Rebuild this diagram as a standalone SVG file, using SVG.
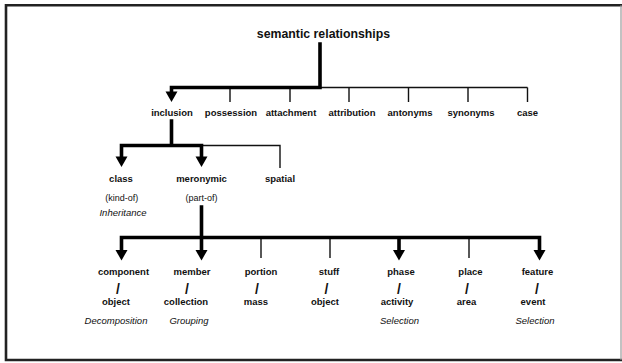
<svg xmlns="http://www.w3.org/2000/svg" xmlns:xlink="http://www.w3.org/1999/xlink" width="622" height="363" viewBox="0 0 622 363">
<defs>
<style>
.frame{fill:none;stroke:#222;stroke-width:2.6}
.frame-r{fill:none;stroke:#999;stroke-width:1.2}
.thick{fill:none;stroke:#000;stroke-width:3.6;stroke-linecap:square;stroke-linejoin:miter}
.thin{fill:none;stroke:#111;stroke-width:1.4}
.ah{fill:#000}
text{font-family:"Liberation Sans",Arial,sans-serif;fill:#111;text-anchor:middle}
.title{font-size:12.3px;font-weight:bold}
.lbl{font-size:9.5px;font-weight:bold}
.par{font-size:9px}
.it{font-size:9.5px;font-style:italic}
.sl{font-size:14px;font-weight:bold}
</style>
<path id="ah" d="M-6,-10.5 L6,-10.5 L0,0 Z"/>
</defs>
<rect x="0" y="0" width="622" height="363" fill="#fff"/>
<path class="frame" d="M622,5.2 H6 V360 H622"/>
<path class="frame-r" d="M621,5.2 V360"/>

<g id="connectors">
  <!-- level 1 -->
  <path class="thin" d="M171.5,87.5 H527.5"/>
  <path class="thin" d="M230,87.5 V102 M290,87.5 V102 M349,87.5 V102 M408.5,87.5 V102 M468,87.5 V102 M527.5,87.5 V102"/>
  <path class="thick" d="M320,44 V87.5 H171.5 V93"/>
  <use href="#ah" class="ah" x="171.5" y="102"/>
  <!-- level 2 -->
  <path class="thin" d="M201.5,145.5 H280 V168"/>
  <path class="thick" d="M171.5,121 V145.5 M121.5,157 V145.5 H201.5 V157"/>
  <use href="#ah" class="ah" x="121.5" y="167"/>
  <use href="#ah" class="ah" x="201.5" y="167"/>
  <!-- level 3 -->
  <path class="thin" d="M261,237.5 V258 M330,237.5 V258 M469,237.5 V258"/>
  <path class="thick" d="M201.5,207 V237.5 M121.5,250 V237.5 H539.5 V250 M201.5,237.5 V250 M399,237.5 V250"/>
  <use href="#ah" class="ah" x="121.5" y="260.5"/>
  <use href="#ah" class="ah" x="201.5" y="260.5"/>
  <use href="#ah" class="ah" x="399" y="260.5"/>
  <use href="#ah" class="ah" x="539.5" y="260.5"/>
</g>

<g id="semantic-relationships"><text class="title" x="323.5" y="38.3">semantic relationships</text></g>

<g id="inclusion"><text class="lbl" x="172" y="115.5">inclusion</text></g>
<g id="possession"><text class="lbl" x="231" y="115.5">possession</text></g>
<g id="attachment"><text class="lbl" x="291" y="115.5">attachment</text></g>
<g id="attribution"><text class="lbl" x="352" y="115.5">attribution</text></g>
<g id="antonyms"><text class="lbl" x="410" y="115.5">antonyms</text></g>
<g id="synonyms"><text class="lbl" x="471" y="115.5">synonyms</text></g>
<g id="case"><text class="lbl" x="527.5" y="115.5">case</text></g>

<g id="class">
  <text class="lbl" x="121" y="181.5">class</text>
  <text class="par" x="121.7" y="201">(kind-of)</text>
  <text class="it" x="123" y="216">Inheritance</text>
</g>
<g id="meronymic">
  <text class="lbl" x="201.5" y="181.5">meronymic</text>
  <text class="par" x="201.5" y="201">(part-of)</text>
</g>
<g id="spatial"><text class="lbl" x="280" y="181.5">spatial</text></g>

<g id="component-object">
  <text class="lbl" x="123.5" y="275">component</text>
  <text class="sl" x="118" y="293.5">/</text>
  <text class="lbl" x="116" y="305">object</text>
  <text class="it" x="116" y="324">Decomposition</text>
</g>
<g id="member-collection">
  <text class="lbl" x="192" y="275">member</text>
  <text class="sl" x="187" y="293.5">/</text>
  <text class="lbl" x="186" y="305">collection</text>
  <text class="it" x="189" y="324">Grouping</text>
</g>
<g id="portion-mass">
  <text class="lbl" x="261" y="275">portion</text>
  <text class="sl" x="257" y="293.5">/</text>
  <text class="lbl" x="256" y="305">mass</text>
</g>
<g id="stuff-object">
  <text class="lbl" x="329" y="275">stuff</text>
  <text class="sl" x="326.5" y="293.5">/</text>
  <text class="lbl" x="325" y="305">object</text>
</g>
<g id="phase-activity">
  <text class="lbl" x="401" y="275">phase</text>
  <text class="sl" x="399" y="293.5">/</text>
  <text class="lbl" x="397" y="305">activity</text>
  <text class="it" x="399.5" y="324">Selection</text>
</g>
<g id="place-area">
  <text class="lbl" x="470.5" y="275">place</text>
  <text class="sl" x="467" y="293.5">/</text>
  <text class="lbl" x="466.5" y="305">area</text>
</g>
<g id="feature-event">
  <text class="lbl" x="537.5" y="275">feature</text>
  <text class="sl" x="537" y="293.5">/</text>
  <text class="lbl" x="533" y="305">event</text>
  <text class="it" x="535" y="324">Selection</text>
</g>
</svg>
